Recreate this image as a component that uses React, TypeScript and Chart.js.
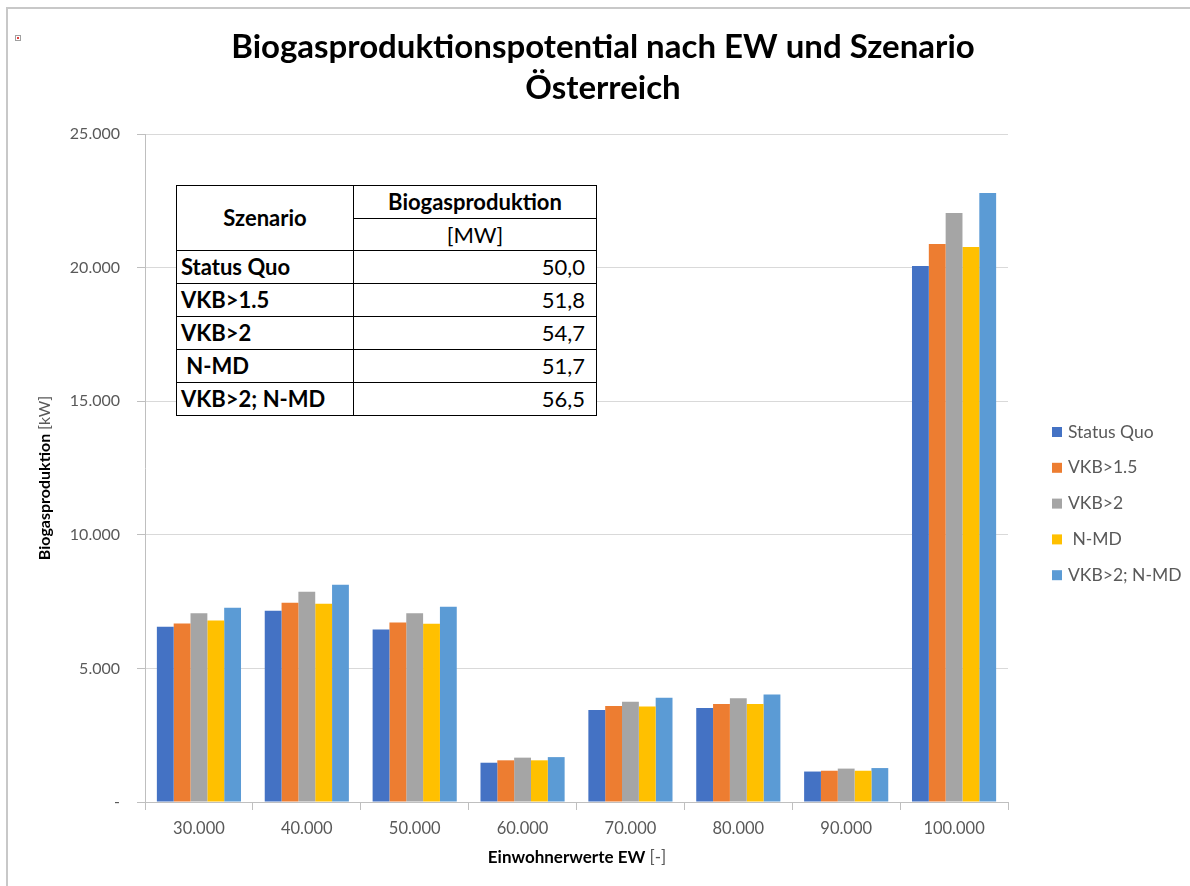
import React, { useEffect, useRef } from "react";
import { Chart, registerables } from "chart.js";

Chart.register(...registerables);

const categories = ["30.000", "40.000", "50.000", "60.000", "70.000", "80.000", "90.000", "100.000"];
const seriesNames = ["Status Quo", "VKB>1.5", "VKB>2", " N-MD", "VKB>2; N-MD"];
const statusQuo = [6560, 7160, 6460, 1470, 3440, 3520, 1140, 20060];
const vkb15 = [6680, 7460, 6720, 1560, 3590, 3670, 1170, 20880];
const vkb2 = [7060, 7870, 7060, 1660, 3750, 3880, 1250, 22040];
const nmd = [6790, 7420, 6670, 1560, 3570, 3670, 1170, 20770];
const vkb2nmd = [7270, 8130, 7310, 1680, 3900, 4020, 1270, 22790];
const seriesColors = ["#4472C4", "#ED7D31", "#A5A5A5", "#FFC000", "#5B9BD5"];
const yTickValues = [0, 5000, 10000, 15000, 20000, 25000];
const yTickLabels = ["-", "5.000", "10.000", "15.000", "20.000", "25.000"];

const titleLines = ["Biogasproduktionspotential nach EW und Szenario", "Österreich"];
const yTitleBold = "Biogasproduktion ";
const yTitleNormal = "[kW]";
const xTitleBold = "Einwohnerwerte EW ";
const xTitleNormal = "[-]";

const tableScenarios = ["Status Quo", "VKB>1.5", "VKB>2", " N-MD", "VKB>2; N-MD"];
const tableValues = ["50,0", "51,8", "54,7", "51,7", "56,5"];

const FONT = "Lato, 'Open Sans', sans-serif";

const decorPlugin = {
  id: "decor",
  afterDraw(chart: any) {
    const ctx = chart.ctx;
    ctx.save();
    // Title
    ctx.fillStyle = "#000000";
    ctx.textAlign = "center";
    ctx.textBaseline = "middle";
    ctx.font = `bold 33px ${FONT}`;
    ctx.fillText(titleLines[0], 603, 47);
    ctx.fillText(titleLines[1], 603, 88);

    // X axis title (bold + normal)
    ctx.font = `bold 17px ${FONT}`;
    const wb = ctx.measureText(xTitleBold).width;
    ctx.font = `17px ${FONT}`;
    const wn = ctx.measureText(xTitleNormal).width;
    const sx = 577 - (wb + wn) / 2;
    ctx.textAlign = "left";
    ctx.font = `bold 17px ${FONT}`;
    ctx.fillStyle = "#000000";
    ctx.fillText(xTitleBold, sx, 858);
    ctx.font = `17px ${FONT}`;
    ctx.fillStyle = "#595959";
    ctx.fillText(xTitleNormal, sx + wb, 858);

    // Y axis title rotated
    ctx.save();
    ctx.translate(45, 478);
    ctx.rotate(-Math.PI / 2);
    ctx.font = `bold 16px ${FONT}`;
    const yb = ctx.measureText(yTitleBold).width;
    ctx.font = `16px ${FONT}`;
    const yn = ctx.measureText(yTitleNormal).width;
    const ys = -(yb + yn) / 2;
    ctx.font = `bold 16px ${FONT}`;
    ctx.fillStyle = "#000000";
    ctx.fillText(yTitleBold, ys, 0);
    ctx.font = `16px ${FONT}`;
    ctx.fillStyle = "#595959";
    ctx.fillText(yTitleNormal, ys + yb, 0);
    ctx.restore();

    // Legend
    ctx.font = `17.5px ${FONT}`;
    ctx.textBaseline = "middle";
    chart.data.datasets.forEach((ds: any, i: number) => {
      const cy = 432 + i * 35.8;
      ctx.fillStyle = ds.backgroundColor;
      ctx.fillRect(1052, cy - 5, 10, 10);
      ctx.fillStyle = "#595959";
      ctx.fillText(ds.label, 1068, cy);
    });
    ctx.restore();
  },
};

export default function App() {
  const canvasRef = useRef<HTMLCanvasElement | null>(null);

  useEffect(() => {
    if (!canvasRef.current) return;
    const seriesValues = [statusQuo, vkb15, vkb2, nmd, vkb2nmd];
    const chart = new Chart(canvasRef.current, {
      type: "bar",
      data: {
        labels: categories,
        datasets: seriesNames.map((name, i) => ({
          label: name,
          data: seriesValues[i],
          backgroundColor: seriesColors[i],
          borderWidth: 0,
          categoryPercentage: 0.78,
          barPercentage: 1.0,
        })),
      },
      options: {
        animation: false,
        responsive: false,
        maintainAspectRatio: false,
        layout: { padding: { top: 134, right: 182, left: 0, bottom: 0 } },
        plugins: {
          legend: { display: false },
          title: { display: false },
          tooltip: { enabled: false },
        },
        scales: {
          x: {
            afterFit: (scale: any) => {
              scale.height = 84;
            },
            grid: {
              display: true,
              drawOnChartArea: false,
              offset: true,
              tickLength: 8,
              color: "#BFBFBF",
            },
            border: { display: true, color: "#BFBFBF", width: 1 },
            ticks: {
              color: "#595959",
              font: { family: FONT, size: 16.5 },
              padding: 9,
              maxRotation: 0,
            },
          },
          y: {
            min: 0,
            max: 25000,
            afterFit: (scale: any) => {
              scale.width = 145;
            },
            afterBuildTicks: (scale: any) => {
              scale.ticks = yTickValues.map((v) => ({ value: v }));
            },
            grid: {
              color: "#D9D9D9",
              tickLength: 8,
              tickColor: "#BFBFBF",
            },
            border: { display: true, color: "#BFBFBF", width: 1 },
            ticks: {
              color: "#595959",
              font: { family: FONT, size: 16 },
              padding: 17,
              callback: (v: any) => {
                const idx = yTickValues.indexOf(Number(v));
                return idx >= 0 ? yTickLabels[idx] : "";
              },
            },
          },
        },
      },
      plugins: [decorPlugin],
    });
    return () => chart.destroy();
  }, []);

  const cell: React.CSSProperties = {
    border: "1px solid #000",
    padding: "0 11px 0 6px",
    fontSize: 22,
    lineHeight: "26px",
    fontFamily: FONT,
    color: "#000",
  };

  return (
    <div style={{ position: "absolute", left: 0, top: 0, width: 1190, height: 886, background: "#fff", overflow: "hidden" }}>
      <canvas ref={canvasRef} width={1190} height={886} style={{ position: "absolute", left: 0, top: 0 }} />
      <div style={{ position: "absolute", left: 6, top: 7, width: 1184, height: 879, borderLeft: "2px solid #C8C8C8", borderTop: "2px solid #C8C8C8", pointerEvents: "none" }} />
      <div style={{ position: "absolute", left: 15, top: 35, width: 4, height: 4, border: "1px solid #A0A0A0", background: "#fff" }}>
        <div style={{ position: "absolute", left: 1, top: 1, width: 2, height: 2, background: "#E04040" }} />
      </div>
      <table
        style={{
          position: "absolute",
          left: 176,
          top: 185,
          width: 420,
          borderCollapse: "collapse",
          background: "#fff",
          tableLayout: "fixed",
        }}
      >
        <colgroup>
          <col style={{ width: 177 }} />
          <col style={{ width: 243 }} />
        </colgroup>
        <tbody>
          <tr style={{ height: 33 }}>
            <td rowSpan={2} style={{ ...cell, fontWeight: "bold", textAlign: "center", padding: "0 6px" }}>Szenario</td>
            <td style={{ ...cell, fontWeight: "bold", textAlign: "center", padding: "0 6px" }}>Biogasproduktion</td>
          </tr>
          <tr style={{ height: 32 }}>
            <td style={{ ...cell, textAlign: "center", padding: "0 6px" }}>[MW]</td>
          </tr>
          {tableScenarios.map((s, i) => (
            <tr key={s} style={{ height: 33 }}>
              <td style={{ ...cell, fontWeight: "bold", textAlign: "left", whiteSpace: "pre", padding: "0 4px" }}>{s}</td>
              <td style={{ ...cell, textAlign: "right" }}>{tableValues[i]}</td>
            </tr>
          ))}
        </tbody>
      </table>
    </div>
  );
}
